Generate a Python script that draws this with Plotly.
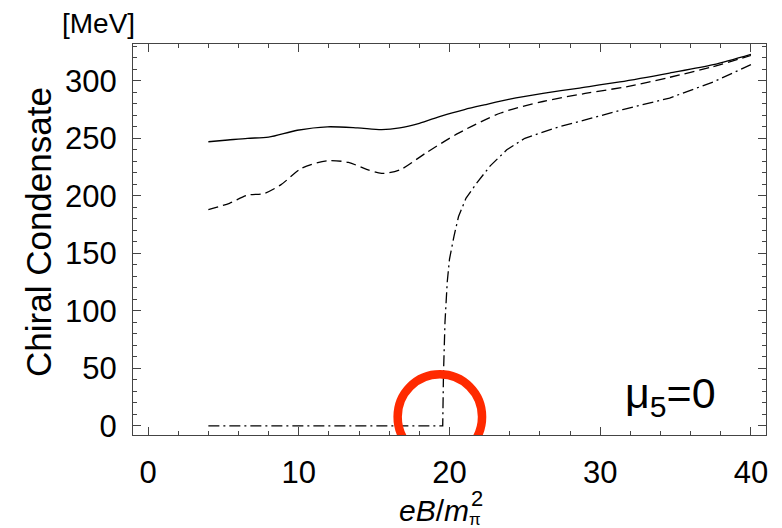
import plotly.graph_objects as go

# eB/m_pi^2 values and chiral condensate [MeV]
x_solid = [4.0, 5.3, 6.6, 8.0, 9.9, 11.9, 13.9, 15.5, 16.7, 18.0, 19.5, 21.0, 22.3, 24.0, 26.2, 28.5, 31.3, 34.6, 37.5, 40.0]
y_solid = [247, 248.5, 250, 251, 257, 260, 259, 257.5, 259, 263, 269.6, 275, 279, 284, 289, 293.5, 299, 306.7, 314, 323]

x_dash = [4.0, 5.4, 6.6, 7.7, 8.8, 10.2, 11.9, 13.3, 14.5, 15.5, 16.7, 18.4, 20.6, 23.4, 26.2, 29.0, 31.8, 34.6, 37.4, 40.0]
y_dash = [188, 193.5, 200.5, 202, 209.5, 224, 230.5, 229, 223, 219.5, 222.5, 237, 254.5, 272, 282, 289, 295, 303, 312, 322]

x_dashdot = [4.0, 19.55, 19.6, 19.7, 19.85, 20.0, 20.3, 20.6, 21.1, 21.8, 22.7, 23.8, 25.0, 27.0, 29.0, 31.5, 34.6, 37.5, 40.0]
y_dashdot = [0, 0, 45, 90, 125, 145, 165, 182, 198, 211, 226, 240, 250, 259, 266, 275, 285, 299, 314]

x_ticks = [0, 10, 20, 30, 40]
y_ticks = [0, 50, 100, 150, 200, 250, 300]

# highlight ring (annotation, data units)
ring_cx, ring_cy = 19.36, 7.8
ring_rx, ring_ry = 2.8, 37

FONT = "Liberation Sans, Arial, Helvetica, sans-serif"

fig = go.Figure()
fig.add_trace(go.Scatter(x=x_solid, y=y_solid, mode="lines",
                         line=dict(color="black", width=1.3, shape="spline", smoothing=0.8)))
fig.add_trace(go.Scatter(x=x_dash, y=y_dash, mode="lines",
                         line=dict(color="black", width=1.3, shape="spline", smoothing=0.8, dash="10px,5px")))
fig.add_trace(go.Scatter(x=x_dashdot, y=y_dashdot, mode="lines",
                         line=dict(color="black", width=1.3, dash="11px,4px,2px,4px")))

fig.add_shape(type="circle", xref="x", yref="y",
              x0=ring_cx - ring_rx, x1=ring_cx + ring_rx,
              y0=ring_cy - ring_ry, y1=ring_cy + ring_ry,
              line=dict(color="#FF2A00", width=8.5))

axis_common = dict(
    showline=True, linecolor="#444", linewidth=1, mirror="allticks",
    ticks="inside", ticklen=8, tickwidth=1, tickcolor="#444",
    showgrid=False, zeroline=False,
    tickfont=dict(family=FONT, size=31, color="black"),
)

fig.update_xaxes(range=[-1, 41], tickvals=x_ticks, ticklabelstandoff=10,
                 minor=dict(dtick=2, tick0=0, ticks="inside", ticklen=4, tickcolor="#444", showgrid=False),
                 **axis_common)
fig.update_yaxes(range=[-8, 332], tickvals=y_ticks, ticklabelstandoff=9,
                 minor=dict(dtick=10, tick0=0, ticks="inside", ticklen=4, tickcolor="#444", showgrid=False),
                 **axis_common)

W, H = 782, 528
L, R, T, B = 133, 16, 44, 93
pw, ph = W - L - R, H - T - B


def px(xp):
    return (xp - L) / pw


def py(yp):
    return (H - B - yp) / ph


# y axis title
fig.add_annotation(text="Chiral Condensate", xref="paper", yref="paper",
                   x=px(39), y=py(232), xanchor="center", yanchor="middle", textangle=-90,
                   showarrow=False, font=dict(family=FONT, size=35, color="black"))
# x axis title (stacked sub/superscript)
fig.add_annotation(text="<i>eB</i>/<i>m</i>", xref="paper", yref="paper",
                   x=px(471), y=py(510), xanchor="right", yanchor="middle",
                   showarrow=False, font=dict(family=FONT, size=30, color="black"))
fig.add_annotation(text="2", xref="paper", yref="paper",
                   x=px(477), y=py(498), xanchor="center", yanchor="middle",
                   showarrow=False, font=dict(family=FONT, size=22, color="black"))
fig.add_annotation(text="π", xref="paper", yref="paper",
                   x=px(475), y=py(519), xanchor="center", yanchor="middle",
                   showarrow=False, font=dict(family=FONT, size=17, color="black"))

fig.add_annotation(text="[MeV]", xref="paper", yref="paper", x=px(98), y=py(23),
                   xanchor="center", yanchor="middle",
                   showarrow=False, font=dict(family=FONT, size=28, color="black"))
fig.add_annotation(text="μ<sub>5</sub>=0", xref="paper", yref="paper", x=px(670), y=py(396),
                   xanchor="center", yanchor="middle",
                   showarrow=False, font=dict(family=FONT, size=43, color="black"))

fig.update_layout(
    width=W, height=H,
    margin=dict(l=L, r=R, t=T, b=B),
    plot_bgcolor="white", paper_bgcolor="white",
    showlegend=False,
)

fig.write_html("out.html")
